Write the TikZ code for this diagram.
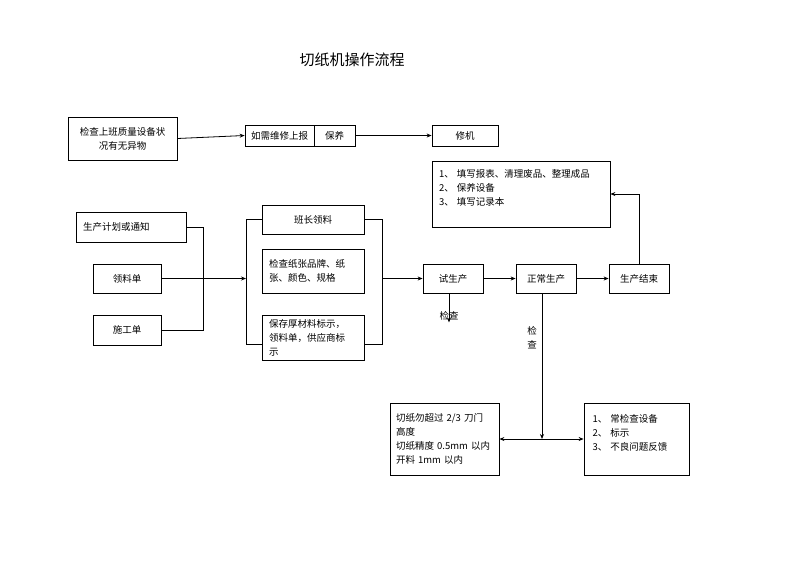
\documentclass[tikz,border=0pt]{standalone}
\usepackage{fontspec}
\setmainfont{Noto Sans CJK SC}
\usetikzlibrary{arrows.meta}

\begin{document}
\begin{tikzpicture}[x=1pt,y=-1pt,>={Stealth[length=5pt,width=4pt]},line width=0.8pt,
    box/.style={draw,inner sep=0pt,font=\fontsize{9.5}{14}\selectfont},
    lbox/.style={box,align=left}]
        \useasboundingbox (0,0) rectangle (792,560);
        \node[font=\fontsize{15}{18}\selectfont] (title) at (352,60) {切纸机操作流程};
        % top row
        \node[box,minimum width=109,minimum height=43,align=center] (shift) at (122.5,138.5) {检查上班质量设备状\\况有无异物};
        \node[box,minimum width=69,minimum height=21] (report) at (279.5,135.5) {如需维修上报};
        \node[box,minimum width=41,minimum height=21] (upkeep) at (334.5,135.5) {保养};
        \node[box,minimum width=66,minimum height=21] (repair) at (465,135.5) {修机};
        \draw[->] (shift.east) -- (report.west);
        \draw[->] (upkeep.east) -- (repair.west);
        % inputs
        \node[lbox,minimum width=110,minimum height=30,text width=96] (plan) at (131,227) {生产计划或通知};
        \node[box,minimum width=68,minimum height=29] (form) at (127,278.5) {领料单};
        \node[box,minimum width=68,minimum height=30] (work) at (127,330) {施工单};
        \draw (plan.east) -- ++(17,0) |- (work.east);
        % material
        \node[box,minimum width=102,minimum height=29] (leader) at (313,219.5) {班长领料};
        \node[lbox,minimum width=102,minimum height=44,text width=88] (check) at (313,271) {检查纸张品牌、纸\\张、颜色、规格};
        \node[lbox,minimum width=102,minimum height=45,text width=88] (keep) at (313,337.5) {保存厚材料标示，\\领料单，供应商标\\示};
        \coordinate (lbot) at (246,344);
        \coordinate (rbot) at (382,344);
        \draw (leader.west) -| (lbot) -- (lbot -| keep.west);
        \draw (leader.east) -| (rbot) -- (rbot -| keep.east);
        \draw[->] (form.east) -- (form.east -| lbot);
        % production
        \node[box,minimum width=60,minimum height=29] (trial) at (453,278.5) {试生产};
        \node[box,minimum width=60,minimum height=29] (normal) at (546,278.5) {正常生产};
        \node[box,minimum width=60,minimum height=29] (finish) at (639,278.5) {生产结束};
        \draw[->] (rbot |- trial.west) -- (trial.west);
        \draw[->] (trial.east) -- (normal.east -| normal.west);
        \draw[->] (normal.east) -- (finish.west);
        \node[lbox,minimum width=178,minimum height=66,text width=164] (jobs) at (521,194) {1、 填写报表、清理废品、整理成品\\2、 保养设备\\3、 填写记录本\\\mbox{}};
        \draw[->] (finish.north) |- (jobs.east);
        % checks
        \draw[->] ([xshift=-4]trial.south) -- ++(0,29);
        \node[font=\fontsize{9.5}{14}\selectfont,inner sep=0pt] (chk1) at (449,316) {检查};
        \coordinate (split) at (542,439);
        \draw[->] ([xshift=-4]normal.south) -- (split);
        \node[font=\fontsize{9.5}{14}\selectfont,inner sep=0pt,align=center] (chk2) at (532,338) {检\\查};
        \node[lbox,minimum width=109,minimum height=72,text width=97] (gauge) at (444.5,439) {切纸勿超过 2/3 刀门\\高度\\切纸精度 0.5mm 以内\\开料 1mm 以内};
        \node[lbox,minimum width=105,minimum height=72,text width=88] (advice) at (636.5,439) {1、 常检查设备\\2、 标示\\3、 不良问题反馈\\\mbox{}};
        \draw[<->] (gauge.east) -- (advice.west);
    \end{tikzpicture}
\end{document}
